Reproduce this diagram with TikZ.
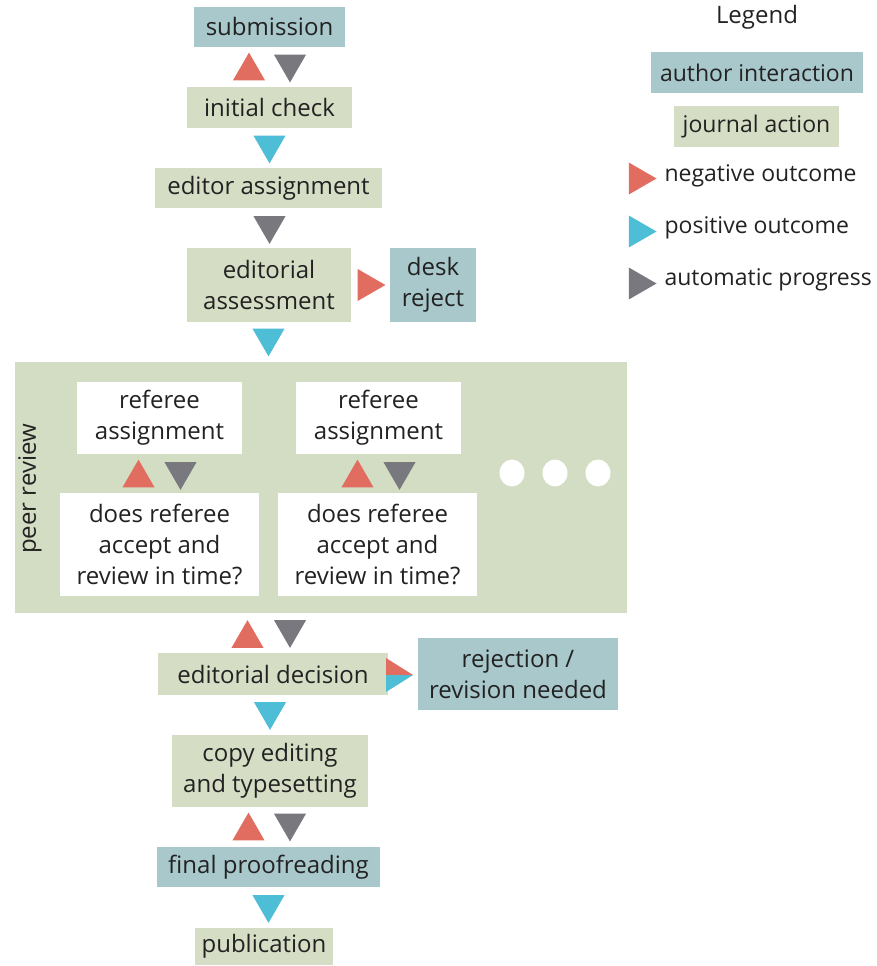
\documentclass[tikz,border=0pt]{standalone}
\usepackage{fontspec}
\setmainfont{Open Sans}
\usetikzlibrary{shapes.geometric}
\definecolor{authorc}{HTML}{A9C8CB}
\definecolor{journalc}{HTML}{D5DEC5}
\definecolor{peerc}{HTML}{D3DDC3}
\definecolor{negc}{HTML}{E06D60}
\definecolor{posc}{HTML}{4EBDD6}
\definecolor{autoc}{HTML}{78787E}
\definecolor{txtc}{HTML}{222222}
\begin{document}
\begin{tikzpicture}[x=1pt,y=-1pt,
  every node/.style={text=txtc, font=\fontsize{24}{31}\selectfont},
  box/.style={inner sep=0pt, outer sep=0pt, align=center},
  author/.style={box, fill=authorc},
  journal/.style={box, fill=journalc},
  refbox/.style={box, fill=white},
  tri/.style={regular polygon, regular polygon sides=3, minimum size=37pt, inner sep=0pt, outer sep=0pt, draw=none},
  triup/.style={tri, shape border rotate=0},
  tridown/.style={tri, shape border rotate=180},
  triright/.style={tri, shape border rotate=-90},
  negfill/.style={fill=negc},
  posfill/.style={fill=posc},
  autofill/.style={fill=autoc},
  legtext/.style={anchor=west, font=\fontsize{23}{30}\selectfont},
  dot/.style={ellipse, fill=white, minimum width=25pt, minimum height=27pt, inner sep=0pt}
]
\useasboundingbox (0,0) rectangle (877,966);

% main flow boxes
\node[author, minimum width=151pt, minimum height=40pt] (sub) at (269.5,27) {submission};
\node[journal, minimum width=165pt, minimum height=41pt] (ic) at (269.5,107.5) {initial check};
\node[journal, minimum width=227pt, minimum height=40pt] (ea) at (268.5,188) {editor assignment};
\node[journal, minimum width=164pt, minimum height=74pt] (eas) at (269,285) {editorial\\assessment};
\node[author, minimum width=86pt, minimum height=74pt] (dr) at (433,285) {desk\\reject};

% peer review block
\node[box, fill=peerc, minimum width=612pt, minimum height=251pt] (peer) at (321,487.5) {};
\node[rotate=90] (peerlbl) at (30,489) {peer review};
\node[refbox, minimum width=165pt, minimum height=72pt] (ra1) at (159.5,418) {referee\\assignment};
\node[refbox, minimum width=165pt, minimum height=72pt] (ra2) at (378.5,418) {referee\\assignment};
\node[refbox, minimum width=199pt, minimum height=103pt] (dq1) at (159.5,544.5) {does referee\\accept and\\review in time?};
\node[refbox, minimum width=199pt, minimum height=103pt] (dq2) at (377.5,544.5) {does referee\\accept and\\review in time?};
\node[dot] (d1) at (512,473) {};
\node[dot] (d2) at (555,473) {};
\node[dot] (d3) at (598,473) {};

\node[journal, minimum width=230pt, minimum height=42pt] (ed) at (273,674) {editorial decision};
\node[author, minimum width=200pt, minimum height=72pt] (rej) at (518,674) {rejection /\\revision needed};
\node[journal, minimum width=196pt, minimum height=72pt] (ce) at (270,771) {copy editing\\and typesetting};
\node[author, minimum width=223pt, minimum height=40pt] (fp) at (268.5,867) {final proofreading};
\node[journal, minimum width=138pt, minimum height=37pt] (pub) at (264,946) {publication};

% outcome triangles (centre of circumcircle)
\node[triup, negfill] (t1) at (249,71.1) {};
\node[tridown, autofill] (t2) at (290,63.9) {};
\node[tridown, posfill] (t3) at (269.5,144.9) {};
\node[tridown, autofill] (t4) at (269.5,225.4) {};
\node[triright, negfill] (t5) at (366.9,285) {};
\node[tridown, posfill] (t6) at (268.5,337.9) {};
\node[triup, negfill] (t7) at (138.5,478.1) {};
\node[tridown, autofill] (t8) at (180.5,471.4) {};
\node[triup, negfill] (t9) at (357.5,478.1) {};
\node[tridown, autofill] (t10) at (399.5,471.4) {};
\node[triup, negfill] (t11) at (247.5,638.6) {};
\node[tridown, autofill] (t12) at (290,629.4) {};
\node[tridown, posfill] (t13) at (270,711.4) {};
\node[triup, negfill] (t14) at (248.5,831.1) {};
\node[tridown, autofill] (t15) at (290,822.9) {};
\node[tridown, posfill] (t16) at (268.5,904.4) {};

% split triangle editorial decision -> rejection
\coordinate (sp) at ([shift={(-2,1)}]ed.east);
\fill[negc] ([shift={(0,-17)}]sp) -- ([shift={(27,0)}]sp) -- (sp) -- cycle;
\fill[posc] (sp) -- ([shift={(27,0)}]sp) -- ([shift={(0,17)}]sp) -- cycle;

% legend
\node (legtitle) at (757,17) {Legend};
\node[author, legtext, anchor=center, minimum width=212pt, minimum height=41pt] (lai) at (757,72.5) {author interaction};
\node[journal, legtext, anchor=center, minimum width=165pt, minimum height=41pt] (lja) at (756.5,126.5) {journal action};
\node[triright, negfill] (lt1) at (638,178.5) {};
\node[triright, posfill] (lt2) at (638,231.5) {};
\node[triright, autofill] (lt3) at (638,283.5) {};
\node[legtext] (ln) at (661,176) {negative outcome};
\node[legtext] (lp) at (661,228) {positive outcome};
\node[legtext] (la) at (661,280) {automatic progress};
\end{tikzpicture}
\end{document}
